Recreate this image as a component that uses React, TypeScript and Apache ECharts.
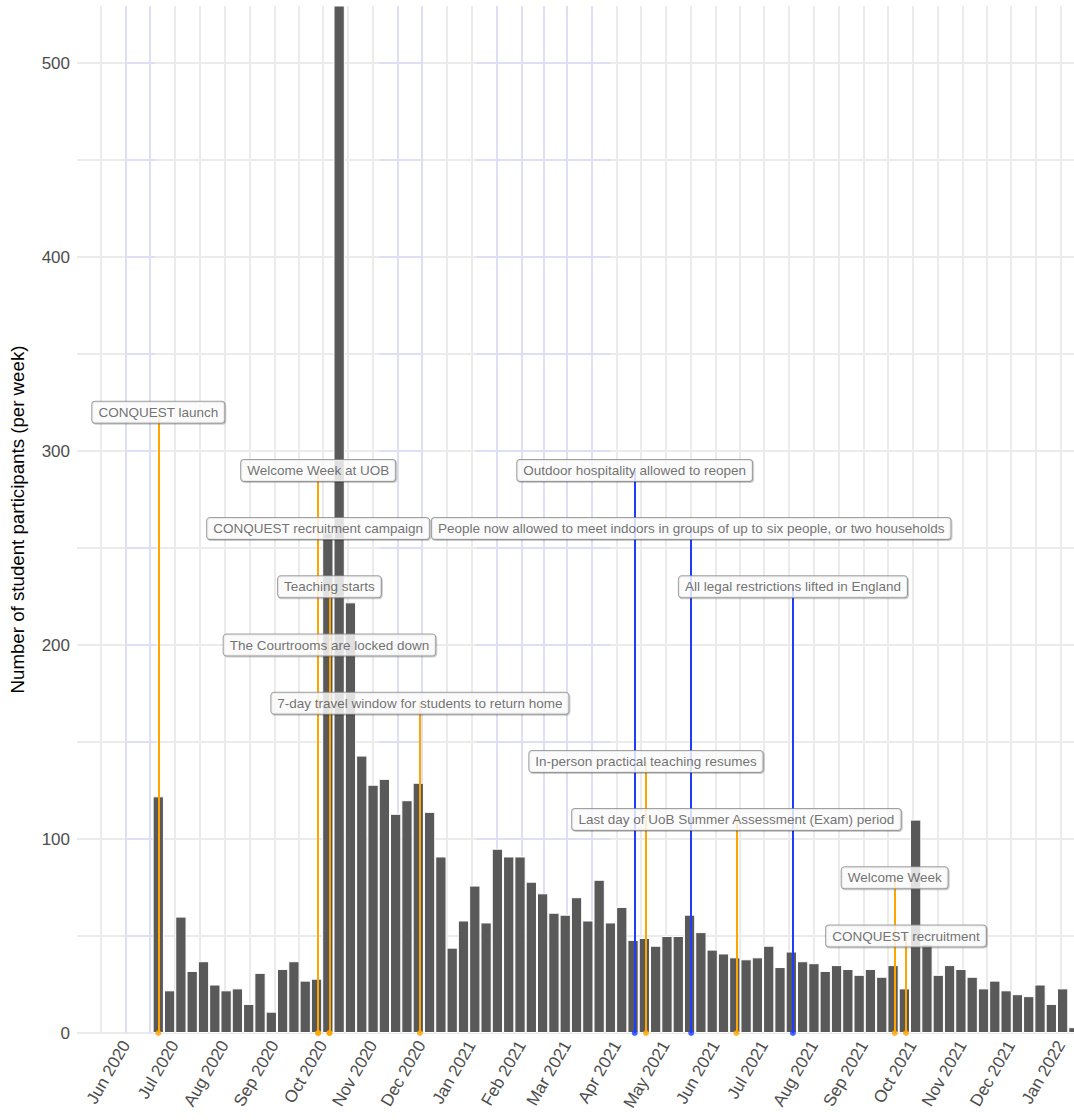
import React, { useEffect, useRef } from 'react';
import * as echarts from 'echarts';

// ---------- data ----------
const firstWeek = '2020-06-21'; // centre date of the first weekly bar
const weeklyParticipants = [
  122, 22, 60, 32, 37, 25, 22, 23, 15, 31,
  11, 33, 37, 27, 28, 258, 620, 222, 143, 128,
  131, 113, 120, 129, 114, 91, 44, 58, 76, 57,
  95, 91, 91, 78, 72, 62, 61, 70, 58, 79,
  57, 65, 48, 49, 45, 50, 50, 61, 52, 43,
  41, 39, 38, 39, 45, 34, 42, 37, 36, 32,
  35, 33, 30, 33, 29, 35, 23, 110, 46, 30,
  35, 33, 29, 23, 27, 22, 20, 19, 25, 15,
  23, 3,
];

const monthTicks = [
  '2020-06-01', '2020-07-01', '2020-08-01', '2020-09-01', '2020-10-01', '2020-11-01',
  '2020-12-01', '2021-01-01', '2021-02-01', '2021-03-01', '2021-04-01', '2021-05-01',
  '2021-06-01', '2021-07-01', '2021-08-01', '2021-09-01', '2021-10-01', '2021-11-01',
  '2021-12-01', '2022-01-01',
];
const monthNames = ['Jan', 'Feb', 'Mar', 'Apr', 'May', 'Jun', 'Jul', 'Aug', 'Sep', 'Oct', 'Nov', 'Dec'];
const yTicks = [0, 100, 200, 300, 400, 500];
const yMinorTicks = [50, 150, 250, 350, 450];

const eventDates = [
  '2020-06-21', '2020-09-28', '2020-09-28', '2020-10-05', '2020-10-05', '2020-11-30',
  '2021-04-12', '2021-04-19', '2021-05-17', '2021-06-14', '2021-07-19', '2021-09-20', '2021-09-27',
];
const eventLabels = [
  'CONQUEST launch',
  'Welcome Week at UOB',
  'CONQUEST recruitment campaign',
  'Teaching starts',
  'The Courtrooms are locked down',
  '7-day travel window for students to return home',
  'Outdoor hospitality allowed to reopen',
  'In-person practical teaching resumes',
  'People now allowed to meet indoors in groups of up to six people, or two households',
  'Last day of UoB Summer Assessment (Exam) period',
  'All legal restrictions lifted in England',
  'Welcome Week',
  'CONQUEST recruitment',
];
const eventLabelY = [320, 290, 260, 230, 200, 170, 290, 140, 260, 110, 230, 80, 50];
const eventType = ['uob', 'uob', 'uob', 'uob', 'uob', 'uob', 'gov', 'uob', 'gov', 'uob', 'gov', 'uob', 'uob'];

// faint lavender grid patches seen in the picture
const lavenderVertical = [
  '2020-06-01', '2020-06-16', '2020-11-16', '2020-12-01', '2021-01-16T12',
  '2021-02-01', '2021-02-15', '2021-03-01', '2021-03-16T12',
];
const lavenderRanges = [
  ['2020-06-01', '2020-06-19'],
  ['2020-11-05', '2020-12-01'],
  ['2021-01-04', '2021-03-28'],
];

// ---------- helpers ----------
function toTime(s: string): number {
  const [datePart, hourPart] = s.split('T');
  const [y, m, d] = datePart.split('-').map(Number);
  return new Date(y, m - 1, d, hourPart ? Number(hourPart) : 0).getTime();
}
const DAY = 86400000;
const FONT = "'Liberation Sans', Arial, Helvetica, sans-serif";
const ORANGE = '#ffa500';
const BLUE = '#1f3cff';
const GRID = '#ebebeb';
const LAVENDER = '#dedef4';

const X_MIN = new Date(2020, 4, 1, 16).getTime();
const X_MAX = new Date(2022, 0, 9, 1).getTime();
const Y_MAX = 529.4;

export default function App() {
  const ref = useRef<HTMLDivElement>(null);

  useEffect(() => {
    if (!ref.current) return;
    const chart = echarts.init(ref.current, undefined, { renderer: 'svg' });

    const start = toTime(firstWeek);
    const barData = weeklyParticipants.map((v, i) => [start + i * 7 * DAY, v]);

    const majors = monthTicks.map(toTime);
    const ext = [toTime('2020-05-01'), ...majors, toTime('2022-02-01')];
    const minors: number[] = [];
    for (let i = 0; i < ext.length - 1; i++) {
      const m = (ext[i] + ext[i + 1]) / 2;
      if (m > X_MIN && m < X_MAX) minors.push(m);
    }
    const vGrid = [...majors, ...minors].filter((t) => t > X_MIN && t < X_MAX);

    const gridLineData: any[] = [
      ...vGrid.map((t) => ({ xAxis: t })),
      ...[...yTicks, ...yMinorTicks].map((v) => ({ yAxis: v })),
    ];

    const lavenderData: any[] = [
      ...lavenderVertical.map((s) => ({ xAxis: toTime(s) })),
    ];
    lavenderRanges.forEach(([a, b]) => {
      [...yMinorTicks, ...yTicks.filter((v) => v > 0)].forEach((v) => {
        lavenderData.push([{ coord: [toTime(a), v] }, { coord: [toTime(b), v] }]);
      });
    });

    const eventLineData = eventDates.map((d, i) => [
      {
        coord: [toTime(d), 0],
        lineStyle: { color: eventType[i] === 'gov' ? BLUE : ORANGE, width: 2, type: 'solid' },
      },
      { coord: [toTime(d), eventLabelY[i]] },
    ]);

    const dotData = eventDates.map((d, i) => ({
      value: [toTime(d), 0],
      itemStyle: { color: eventType[i] === 'gov' ? BLUE : ORANGE },
    }));

    const labelData = eventDates.map((d, i) => ({
      value: [toTime(d), eventLabelY[i]],
      name: eventLabels[i],
    }));

    const option: any = {
      animation: false,
      backgroundColor: '#ffffff',
      textStyle: { fontFamily: FONT },
      grid: { left: 77, top: 6, width: 997, height: 1027, outerBoundsMode: 'none' },
      xAxis: {
        type: 'value',
        min: X_MIN,
        max: X_MAX,
        axisLine: { show: false },
        axisTick: { show: false },
        splitLine: { show: false },
        axisLabel: {
          customValues: majors,
          hideOverlap: false,
          rotate: 60,
          align: 'right',
          verticalAlign: 'middle',
          margin: 9,
          fontSize: 17,
          color: '#4d4d4d',
          fontFamily: FONT,
          formatter: (v: number) => {
            const dt = new Date(v);
            return monthNames[dt.getMonth()] + ' ' + dt.getFullYear();
          },
        },
      },
      yAxis: {
        type: 'value',
        min: 0,
        max: Y_MAX,
        interval: 100,
        name: 'Number of student participants (per week)',
        nameLocation: 'middle',
        nameRotate: 90,
        nameGap: 50,
        nameTextStyle: { fontSize: 18.7, color: '#000000', fontFamily: FONT },
        axisLine: { show: false },
        axisTick: { show: false },
        splitLine: { show: false },
        axisLabel: {
          margin: 7,
          fontSize: 17,
          color: '#4d4d4d',
          fontFamily: FONT,
          showMaxLabel: false,
          formatter: (v: number) => (v % 100 === 0 ? String(v) : ''),
        },
      },
      series: [
        {
          type: 'scatter',
          data: [],
          silent: true,
          z: 1,
          markLine: {
            silent: true,
            z: 1,
            symbol: 'none',
            label: { show: false },
            lineStyle: { color: GRID, width: 2, type: 'solid' },
            emphasis: { disabled: true },
            data: gridLineData,
          },
        },
        {
          type: 'scatter',
          data: [],
          silent: true,
          z: 1,
          markLine: {
            silent: true,
            z: 1,
            symbol: 'none',
            label: { show: false },
            lineStyle: { color: LAVENDER, width: 2, type: 'solid' },
            emphasis: { disabled: true },
            data: lavenderData,
          },
        },
        {
          type: 'bar',
          data: barData,
          barWidth: 11.3,
          z: 3,
          clip: true,
          silent: true,
          itemStyle: { color: '#595959', borderColor: '#ffffff', borderWidth: 1 },
        },
        {
          type: 'scatter',
          data: dotData,
          symbolSize: 6,
          z: 6,
          silent: true,
          clip: false,
          markLine: {
            silent: true,
            z: 5,
            symbol: 'none',
            label: { show: false },
            lineStyle: { type: 'solid', width: 2 },
            emphasis: { disabled: true },
            data: eventLineData,
          },
        },
        {
          type: 'scatter',
          data: labelData,
          symbolSize: 1,
          z: 7,
          silent: true,
          clip: false,
          itemStyle: { color: 'rgba(0,0,0,0)' },
          label: {
            show: true,
            position: 'inside',
            formatter: '{b}',
            fontSize: 13.5,
            lineHeight: 15,
            color: '#4d4d4d',
            fontFamily: FONT,
            backgroundColor: '#ffffff',
            borderColor: '#8a8a8a',
            borderWidth: 1,
            borderRadius: 3,
            padding: [3, 6, 3, 6],
            shadowColor: 'rgba(0,0,0,0.25)',
            shadowOffsetX: 1,
            shadowOffsetY: 1,
            shadowBlur: 0,
          },
        },
      ],
    };

    chart.setOption(option);
    return () => chart.dispose();
  }, []);

  return (
    <div
      ref={ref}
      style={{ position: 'absolute', left: 0, top: 0, width: 1074, height: 1120, background: '#fff' }}
    />
  );
}
